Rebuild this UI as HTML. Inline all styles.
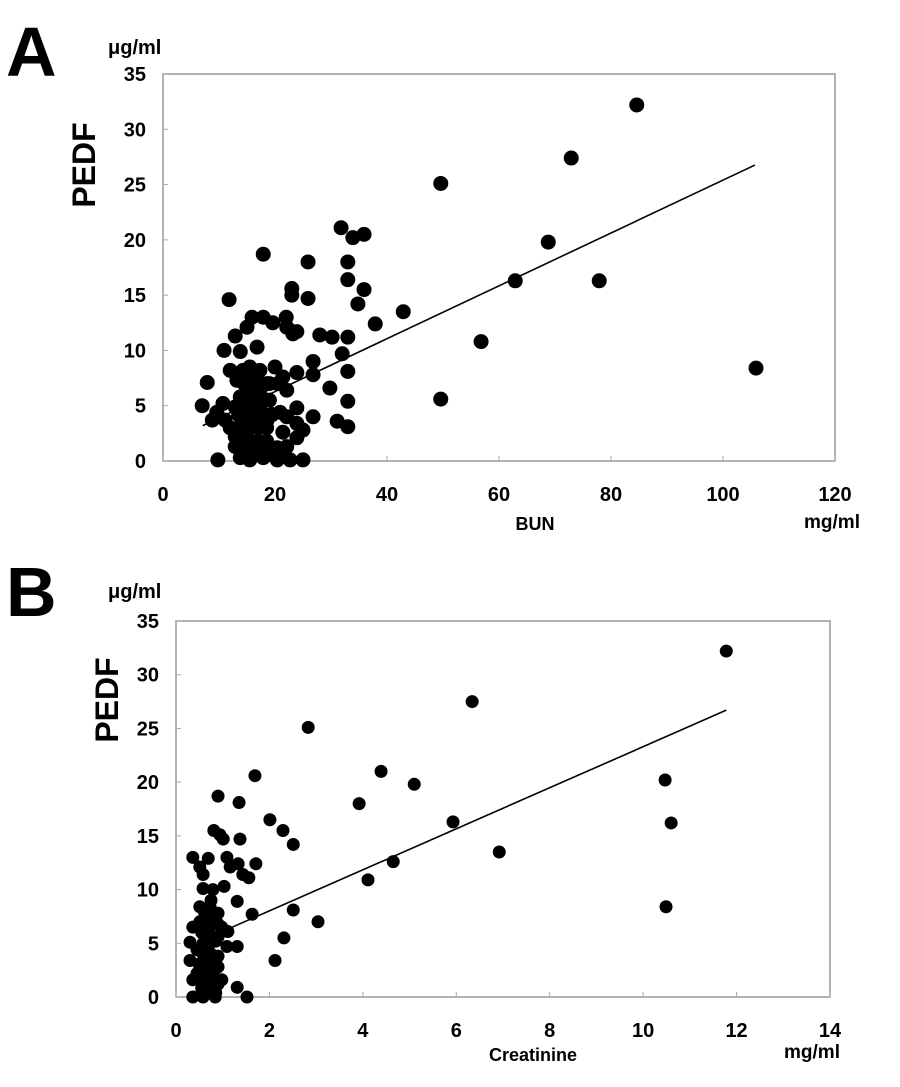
<!DOCTYPE html>
<html><head><meta charset="utf-8"><style>
body{margin:0;background:#fff;width:900px;height:1087px;overflow:hidden}
svg{display:block}
text{font-family:"Liberation Sans",Arial,sans-serif;font-weight:bold;fill:#000}
</style></head><body>
<svg width="900" height="1087">
<g id="pa"></g>
<g id="pb"></g>
</svg>
<script>
// Panel A data (BUN vs PEDF)
const bunX=[31.8,33.9,35.9,17.9,25.9,33.0,33.0,35.9,34.8,42.9,37.9,23.0,23.0,25.9,11.8,15.9,17.9,22.0,19.6,15.0,23.2,22.1,23.9,28.0,30.2,33.0,12.9,10.9,13.8,16.8,32.0,26.8,12.0,14.3,17.3,20.0,23.9,26.8,33.0,21.4,7.9,13.2,16.1,18.6,22.1,29.8,17.3,15.5,33.0,7.0,10.7,12.9,15.0,17.3,23.9,20.9,9.6,8.8,11.1,13.8,16.1,18.6,22.1,26.8,31.1,33.0,23.9,25.0,21.4,12.9,15.0,16.8,20.4,22.1,23.9,12.9,9.8,13.8,15.5,17.9,20.4,22.7,25.0,13.8,15.5,13.8,16.8,
14.5,16.0,17.5,19.0,20.5,14.5,16.0,17.5,19.0,13.5,15.0,16.5,18.0,19.5,14.0,15.5,17.0,18.5,14.0,15.5,17.0,18.5,14.5,16.0,17.5,19.0,20.5,12.0,
49.6,84.6,72.9,68.8,62.9,77.9,56.8,49.6,105.9];
const bunY=[21.1,20.2,20.5,18.7,18.0,18.0,16.4,15.5,14.2,13.5,12.4,15.6,15.0,14.7,14.6,13.0,13.0,13.0,12.5,12.1,11.5,12.1,11.7,11.4,11.2,11.2,11.3,10.0,9.9,10.3,9.7,9.0,8.2,8.2,8.2,8.5,8.0,7.8,8.1,7.6,7.1,7.3,7.6,7.0,6.4,6.6,6.4,6.1,5.4,5.0,5.2,4.9,5.1,4.9,4.8,4.4,4.4,3.7,3.7,4.0,3.9,3.7,4.0,4.0,3.6,3.1,3.4,2.8,2.6,2.2,2.1,1.4,1.2,1.3,2.1,1.3,0.1,0.3,0.1,0.3,0.1,0.1,0.1,1.6,8.5,5.8,3.4,
7.0,7.0,7.0,7.0,7.0,5.5,5.5,5.5,5.5,4.2,4.2,4.2,4.2,4.2,3.0,3.0,3.0,3.0,1.8,1.8,1.8,1.8,0.6,0.6,0.6,0.6,0.6,3.0,
25.1,32.2,27.4,19.8,16.3,16.3,10.8,5.6,8.4];
const fitA=[0.239,1.5,7.1,105.7]; // slope, intercept, xmin, xmax
const xTicksA=[0,20,40,60,80,100,120];
const yTicks=[0,5,10,15,20,25,30,35];
// Panel B data (Creatinine vs PEDF)
const creX=[11.78,6.34,2.83,4.39,5.10,3.92,10.47,10.6,5.93,6.92,4.65,4.11,10.49,3.04,1.69,0.90,1.35,2.01,2.29,2.51,0.81,0.94,1.01,1.37,0.36,0.69,1.09,1.16,1.33,1.71,0.51,0.58,1.43,1.56,0.58,0.79,1.03,1.31,1.63,2.51,2.31,2.12,1.31,1.31,1.52,
0.51,0.73,0.9,0.36,0.98,1.11,0.30,0.58,0.73,1.09,0.30,0.51,0.73,0.9,0.36,0.58,0.84,0.98,0.36,0.58,0.84,0.51,0.73,0.9,0.58,0.73,0.84,0.51,0.66,0.8,0.62,0.7,
0.6,0.75,0.9,0.55,0.7,0.85,0.45,0.6,0.75,0.9,0.5,0.65,0.8,0.45,0.6,0.75,0.9,0.55,0.7,0.85,0.6,0.75];
const creY=[32.2,27.5,25.1,21.0,19.8,18.0,20.2,16.2,16.3,13.5,12.6,10.9,8.4,7.0,20.6,18.7,18.1,16.5,15.5,14.2,15.5,15.1,14.7,14.7,13.0,12.9,13.0,12.1,12.4,12.4,12.1,11.4,11.4,11.1,10.1,10.0,10.3,8.9,7.7,8.1,5.5,3.4,4.7,0.9,0.0,
8.4,8.4,7.8,6.5,6.5,6.1,5.1,5.0,5.0,4.7,3.4,3.1,3.7,2.8,1.6,1.3,1.3,1.6,0.0,0.0,0.0,7.0,6.5,5.6,4.0,2.2,3.0,2.5,0.5,0.4,7.4,1.0,
8.0,7.2,6.8,6.0,5.6,5.2,4.4,4.2,4.0,3.8,3.0,2.6,2.0,2.2,2.0,1.8,1.2,0.8,0.6,0.4,0.2,9.0];
const fitB=[1.91,4.2,1.16,11.78];
const xTicksB=[0,2,4,6,8,10,12,14];

const NS="http://www.w3.org/2000/svg";
function mk(g,tag,attrs,txt){const e=document.createElementNS(NS,tag);for(const k in attrs)e.setAttribute(k,attrs[k]);if(txt!==undefined)e.textContent=txt;g.appendChild(e);return e;}

function panel(g,o){
  const sx=v=>o.x0+(v-o.xmin)/(o.xmax-o.xmin)*(o.x1-o.x0);
  const sy=v=>o.y0-(v/35)*(o.y0-o.y1);
  let e=mk(g,'text',{x:o.lx,y:o.ly,'font-size':70},o.letter);
  
  
  e=mk(g,'text',{x:o.ux,y:o.uy,'font-size':20},'\u03bcg/ml');
  
  
  e=mk(g,'text',{x:0,y:0,'font-size':32,'text-anchor':'middle',transform:`translate(${o.px},${o.py}) rotate(-90)`},'PEDF');
  
  
  e=mk(g,'rect',{x:o.x0,y:o.y1,width:o.x1-o.x0,height:o.y0-o.y1,fill:'none',stroke:'#999','stroke-width':1.5});
  
  
  for(const t of yTicks){
    e=mk(g,'text',{x:o.x0-17,y:sy(t)+7,'font-size':20,'text-anchor':'end'},String(t));
    
    
    mk(g,'line',{x1:o.x0,x2:o.x0+5,y1:sy(t),y2:sy(t),stroke:'#aaa'});
  }
  for(const t of o.xt){
    e=mk(g,'text',{x:sx(t),y:o.y0+40,'font-size':20,'text-anchor':'middle'},String(t));
    
    
    mk(g,'line',{x1:sx(t),x2:sx(t),y1:o.y0,y2:o.y0-5,stroke:'#aaa'});
  }
  e=mk(g,'text',{x:o.tx,y:o.ty,'font-size':18,'text-anchor':'middle'},o.title);
  
  
  e=mk(g,'text',{x:o.mx,y:o.my,'font-size':19,'text-anchor':'middle'},'mg/ml');
  
  
  for(let i=0;i<o.xs.length;i++){
    e=mk(g,'circle',{cx:sx(o.xs[i]),cy:sy(o.ys[i]),r:o.r,fill:'#000'});
    
    
  }
  const f=o.fit;
  e=mk(g,'line',{x1:sx(f[2]),y1:sy(f[1]+f[0]*f[2]),x2:sx(f[3]),y2:sy(f[1]+f[0]*f[3]),stroke:'#000','stroke-width':1.6});
  
  
}
panel(document.getElementById('pa'),{letter:'A',lx:6,ly:76,ux:108,uy:54,px:95,py:165,
  x0:163,x1:835,y0:461,y1:74,xmin:0,xmax:120,xt:xTicksA,title:'BUN',tx:535,ty:530,mx:832,my:528,
  xs:bunX,ys:bunY,fit:fitA,r:7.5});
panel(document.getElementById('pb'),{letter:'B',lx:6,ly:616,ux:108,uy:598,px:118,py:700,
  x0:176,x1:830,y0:997,y1:621,xmin:0,xmax:14,xt:xTicksB,title:'Creatinine',tx:533,ty:1061,mx:812,my:1058,
  xs:creX,ys:creY,fit:fitB,r:6.5});
</script>
</body></html>
